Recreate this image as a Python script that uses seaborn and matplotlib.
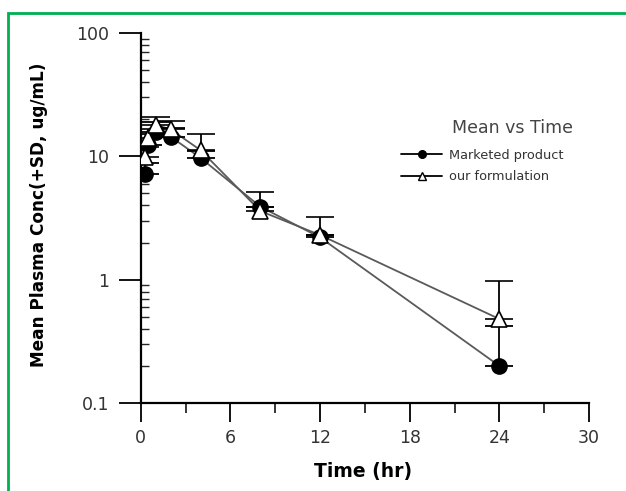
import matplotlib
matplotlib.use("Agg")
import matplotlib.pyplot as plt
import matplotlib.ticker as mticker
from matplotlib.lines import Line2D
from matplotlib.patches import Rectangle
import seaborn as sns
import pandas as pd

time = [0.25, 0.5, 1, 2, 4, 8, 12, 24]
marketed = [7.2, 12.4, 15.8, 14.4, 9.7, 3.9, 2.2, 0.2]
marketed_sd = [1.6, 2.8, 3.2, 2.6, 1.3, 0.0, 0.1, 0.22]
formulation = [9.8, 14.0, 18.0, 16.5, 11.2, 3.6, 2.3, 0.48]
formulation_sd = [2.2, 2.5, 3.0, 3.0, 3.9, 1.5, 0.9, 0.49]

df = pd.concat([
    pd.DataFrame({"Time": time, "Conc": marketed, "Group": "Marketed product"}),
    pd.DataFrame({"Time": time, "Conc": formulation, "Group": "our formulation"}),
])

sns.set_style("ticks")
plt.rcParams["font.family"] = ["DejaVu Sans"]

fig = plt.figure(figsize=(6.26, 4.91), dpi=100)
ax = fig.add_axes([0.225, 0.179, 0.716, 0.754])

# connecting lines
sns.lineplot(data=df, x="Time", y="Conc", hue="Group",
             palette={"Marketed product": "#5a5a5a", "our formulation": "#5a5a5a"},
             linewidth=1.3, legend=False, ax=ax)

# markers with +SD bars
ax.errorbar(time, marketed, yerr=[[0] * len(time), marketed_sd], fmt="o",
            color="black", ms=11, ecolor="black", elinewidth=1.3,
            capsize=10, capthick=1.3, zorder=3)
ax.errorbar(time, formulation, yerr=[[0] * len(time), formulation_sd], fmt="^",
            mfc="white", mec="black", mew=1.2, ms=11, ecolor="black",
            elinewidth=1.3, capsize=10, capthick=1.3, zorder=4)

ax.set_yscale("log")
ax.set_ylim(0.1, 100)
ax.set_xlim(0, 30)
ax.set_xticks([0, 6, 12, 18, 24, 30])
ax.xaxis.set_minor_locator(mticker.MultipleLocator(3))
ax.yaxis.set_major_locator(mticker.FixedLocator([0.1, 1, 10, 100]))
ax.yaxis.set_major_formatter(mticker.FixedFormatter(["0.1", "1", "10", "100"]))
ax.yaxis.set_minor_locator(mticker.LogLocator(base=10, subs=range(2, 10)))
ax.yaxis.set_minor_formatter(mticker.NullFormatter())

ax.tick_params(axis="both", which="major", width=1.3, labelsize=12.5,
               color="black", labelcolor="#333333", direction="out")
ax.tick_params(axis="x", which="major", length=14, pad=5)
ax.tick_params(axis="y", which="major", length=16, pad=7)
ax.tick_params(axis="x", which="minor", length=7, width=1.3, direction="out")
ax.tick_params(axis="y", which="minor", length=6, width=1.0, direction="in")

for s in ["top", "right"]:
    ax.spines[s].set_visible(False)
for s in ["left", "bottom"]:
    ax.spines[s].set_linewidth(1.6)
    ax.spines[s].set_color("black")

ax.set_xlabel("Time (hr)", fontsize=13.5, fontweight="bold", color="black")
ax.xaxis.set_label_coords(0.495, -0.16)
ax.set_ylabel("Mean Plasma Conc(+SD, ug/mL)", fontsize=12.2, fontweight="bold",
              color="black")
ax.yaxis.set_label_coords(-0.207, 0.51)

handles = [
    Line2D([0], [0], color="black", lw=1.3, marker="o", ms=5.5, mfc="black", mec="black"),
    Line2D([0], [0], color="black", lw=1.3, marker="^", ms=5.5, mfc="white", mec="black"),
]
fig.text(452 / 626, 1 - 128 / 491, "Mean vs Time", fontsize=12.5, color="#444444",
         va="center", ha="left")
ax.legend(handles, ["Marketed product", "our formulation"],
          loc="upper left", bbox_to_anchor=(401 / 626, 1 - 149 / 491),
          bbox_transform=fig.transFigure, frameon=False, borderpad=0,
          borderaxespad=0, handlelength=3.2, handletextpad=0.55,
          labelspacing=0.65, fontsize=9.3, labelcolor="#333333")

fig.patches.append(Rectangle((8 / 626, -0.05), 1.1, 1 - 13 / 491 + 0.05,
                             transform=fig.transFigure, fill=False,
                             edgecolor="#00b050", lw=2))

fig.savefig("out.png", dpi=100)
